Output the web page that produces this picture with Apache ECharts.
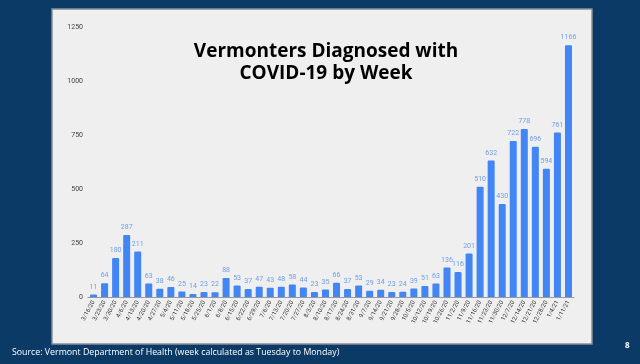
<!DOCTYPE html>
<html>
<head>
<meta charset="utf-8">
<script src="https://cdn.jsdelivr.net/npm/echarts@6/dist/echarts.min.js"></script>
<style>html,body{margin:0;padding:0;background:#0b3a66;}#c{width:640px;height:364px;}</style>
</head>
<body>
<div id="c"></div>
<script>
const weeks = ['3/16/20','3/23/20','3/30/20','4/6/20','4/13/20','4/20/20','4/27/20','5/4/20','5/11/20','5/18/20','5/25/20','6/1/20','6/8/20','6/15/20','6/22/20','6/29/20','7/6/20','7/13/20','7/20/20','7/27/20','8/3/20','8/10/20','8/17/20','8/24/20','8/31/20','9/7/20','9/14/20','9/21/20','9/28/20','10/5/20','10/12/20','10/19/20','10/26/20','11/2/20','11/9/20','11/16/20','11/23/20','11/30/20','12/7/20','12/14/20','12/21/20','12/28/20','1/4/21','1/11/21'];
const diagnosed = [11,64,180,287,211,63,38,46,25,14,23,22,88,53,37,47,43,48,58,44,23,35,66,37,53,29,34,23,24,39,51,63,136,116,201,510,632,430,722,778,696,594,761,1166];
const yTicks = [0,250,500,750,1000,1250];
const titleText = 'Vermonters Diagnosed with\nCOVID-19 by Week';
const sourceText = 'Source: Vermont Department of Health (week calculated as Tuesday to Monday)';
const pageNo = '8';

const chart = echarts.init(document.getElementById('c'), null, {renderer:'canvas'});
chart.setOption({
  backgroundColor: '#0b3a66',
  animation: false,
  graphic: [
    {type:'rect', z:-10, shape:{x:52, y:9, width:540, height:335}, style:{fill:'#efefef', stroke:'#8a8f96', lineWidth:1.5}},
    {type:'text', z:10, left:12, top:348, style:{text:sourceText, fill:'#ffffff', font:'8.8px "Open Sans", sans-serif'}},
    {type:'text', z:10, left:625, top:342, style:{text:pageNo, fill:'#ffffff', font:'bold 8px "Open Sans", sans-serif'}}
  ],
  title: {
    text: titleText,
    left: 321, top: 36, textAlign: 'center',
    textStyle: {fontFamily:'"Open Sans", sans-serif', fontWeight:'bold', fontSize:19, color:'#000', lineHeight:22}
  },
  grid: {left:88, right:66, top:27, bottom:67, containLabel:false},
  xAxis: {
    type:'category', data: weeks,
    axisLine:{lineStyle:{color:'#9a9a9a', width:1}},
    axisTick:{show:false},
    axisLabel:{interval:0, rotate:62, fontSize:6, color:'#333', margin:4, fontFamily:'Roboto, sans-serif'}
  },
  yAxis: {
    type:'value', min:0, max:1250, interval:250,
    axisLine:{show:false}, axisTick:{show:false},
    splitLine:{show:false},
    axisLabel:{fontSize:7, color:'#444', margin:5, fontFamily:'Roboto, sans-serif',
      formatter: v => yTicks.includes(v) ? String(v) : ''}
  },
  series: [{
    type:'bar', data: diagnosed, barWidth:7,
    itemStyle:{color:'#4285f4', borderRadius:[1,1,0,0]},
    label:{show:true, position:'top', distance:4, fontSize:7, color:'#6d9eeb', fontFamily:'Roboto, sans-serif'}
  }]
});
</script>
</body>
</html>
